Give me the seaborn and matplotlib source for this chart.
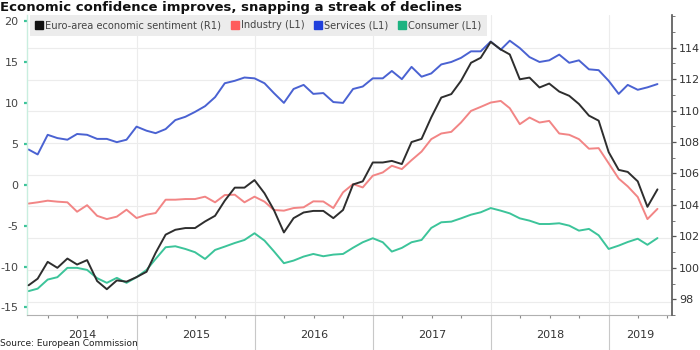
import numpy as np
import pandas as pd
import matplotlib
matplotlib.use("Agg")
import matplotlib.pyplot as plt
import matplotlib.dates as mdates
import matplotlib.transforms as mtransforms
from matplotlib.lines import Line2D
import seaborn as sns

# ---------------- data ----------------
months = pd.date_range("2014-01-31", "2019-05-31", freq="ME")

sentiment = [98.89, 99.31, 100.38, 100.0, 100.59, 100.21, 100.49, 99.16, 98.64, 99.2, 99.12,
             99.41, 99.75, 100.95, 102.11, 102.42, 102.53, 102.53, 102.95, 103.31, 104.27, 105.1, 105.1,
             105.58, 104.74, 103.68, 102.25, 103.16, 103.52, 103.62, 103.62, 103.16, 103.68, 105.3, 105.5,
             106.7, 106.7, 106.8, 106.6, 108.0, 108.2, 109.57, 110.83, 111.05, 111.89, 113.04, 113.36,
             114.37, 113.89, 113.57, 111.99, 112.1, 111.47, 111.72, 111.21, 110.94, 110.42, 109.68, 109.36,
             107.36, 106.23, 106.1, 105.5, 103.88, 104.99]

industry = [-2.3, -2.15, -1.95, -2.07, -2.15, -3.3, -2.5, -3.8, -4.2, -3.9, -3.05,
            -4.07, -3.66, -3.46, -1.83, -1.83, -1.75, -1.75, -1.46, -2.15, -1.26, -1.22, -2.15,
            -1.46, -2.07, -3.09, -3.17, -2.85, -2.76, -2.03, -2.05, -2.85, -0.93, 0.08, -0.33,
            1.1, 1.5, 2.32, 1.91, 3.0, 4.05, 5.57, 6.26, 6.46, 7.6, 9.02, 9.51,
            10.04, 10.24, 9.35, 7.4, 8.21, 7.6, 7.8, 6.26, 6.1, 5.57, 4.4, 4.47,
            2.62, 0.75, -0.2, -1.5, -4.2, -2.95]

services = [4.3, 3.7, 6.1, 5.7, 5.5, 6.2, 6.1, 5.6, 5.6, 5.2, 5.5,
            7.1, 6.6, 6.3, 6.8, 7.9, 8.3, 8.9, 9.6, 10.7, 12.4, 12.7, 13.1,
            13.0, 12.4, 11.2, 10.0, 11.7, 12.2, 11.1, 11.2, 10.1, 10.0, 11.7, 12.0,
            13.0, 13.0, 13.9, 12.9, 14.4, 13.2, 13.6, 14.7, 15.0, 15.5, 16.3, 16.3,
            17.5, 16.5, 17.6, 16.7, 15.6, 15.0, 15.2, 15.9, 14.9, 15.2, 14.1, 14.0,
            12.7, 11.1, 12.2, 11.6, 11.9, 12.3]

consumer = [-13.0, -12.7, -11.59, -11.3, -10.16, -10.16, -10.41, -11.42, -11.99, -11.38, -11.99,
            -11.3, -10.41, -9.07, -7.64, -7.52, -7.85, -8.25, -9.07, -7.97, -7.56, -7.12, -6.75,
            -5.93, -6.83, -8.13, -9.59, -9.27, -8.78, -8.46, -8.74, -8.54, -8.46, -7.7, -7.03,
            -6.54, -7.03, -8.17, -7.72, -7.03, -6.75, -5.28, -4.59, -4.51, -4.11, -3.66, -3.37,
            -2.85, -3.17, -3.5, -4.11, -4.39, -4.8, -4.8, -4.71, -5.0, -5.61, -5.4, -6.18,
            -7.85, -7.44, -7.0, -6.6, -7.34, -6.52]

series_labels = ["Euro-area economic sentiment (R1)", "Industry (L1)", "Services (L1)", "Consumer (L1)"]
years = ["2014", "2015", "2016", "2017", "2018", "2019"]
left_ticks = [-15, -10, -5, 0, 5, 10, 15, 20]
right_ticks = [98, 100, 102, 104, 106, 108, 110, 112, 114]

title = "Economic confidence improves, snapping a streak of declines"
source = "Source: European Commission"

line_colors = {"Euro-area economic sentiment (R1)": "#2e2e2e",
               "Industry (L1)": "#f28585",
               "Services (L1)": "#4a62d2",
               "Consumer (L1)": "#3cc49a"}
legend_colors = ["#111111", "#ff5c5c", "#1f3fdc", "#1cb381"]

# ---------------- figure ----------------
sns.set_theme(style="white")
plt.rcParams["font.family"] = ["DejaVu Sans"]

fig = plt.figure(figsize=(7, 3.5), dpi=100)
fig.patch.set_facecolor("white")
ax = fig.add_axes([27 / 700, 35 / 350, 645 / 700, 300 / 350])
ax2 = ax.twinx()

df = pd.DataFrame({"date": months,
                   "Euro-area economic sentiment (R1)": sentiment,
                   "Industry (L1)": industry,
                   "Services (L1)": services,
                   "Consumer (L1)": consumer})
left_names = ["Industry (L1)", "Services (L1)", "Consumer (L1)"]
long = df.melt(id_vars="date", value_vars=left_names, var_name="series", value_name="value")

sns.lineplot(data=long, x="date", y="value", hue="series", hue_order=left_names,
             palette={k: line_colors[k] for k in left_names}, ax=ax, legend=False,
             linewidth=1.4)
sns.lineplot(data=df, x="date", y="Euro-area economic sentiment (R1)",
             color=line_colors["Euro-area economic sentiment (R1)"], ax=ax2, linewidth=1.4)

# limits
xmin, xmax = pd.Timestamp("2014-01-26"), pd.Timestamp("2019-07-15")
ax.set_xlim(xmin, xmax)
ax.set_ylim(-15.92, 20.74)
ax2.set_ylim(97.15, 116.08)

ax.set_xlabel("")
ax.set_ylabel("")
ax2.set_xlabel("")
ax2.set_ylabel("")

# left axis
ax.set_yticks(left_ticks)
ax.set_yticklabels([str(t) for t in left_ticks])
ax.tick_params(axis="y", which="major", left=True, length=2, width=1.6, color="#3cc49a",
               labelcolor="#444444", labelsize=8, pad=4)
ax.spines["left"].set_color("#c9eedf")
ax.spines["left"].set_linewidth(1.0)
ax.spines["top"].set_visible(False)
ax.spines["right"].set_visible(False)
ax.spines["bottom"].set_color("#b0b0b0")
ax.spines["bottom"].set_linewidth(0.8)

# horizontal grid follows right-axis ticks
L0, L1 = ax.get_ylim()
R0, R1 = ax2.get_ylim()
mapped = L0 + (np.array(right_ticks) - R0) * (L1 - L0) / (R1 - R0)
ax.set_yticks(mapped, minor=True)
ax.tick_params(axis="y", which="minor", length=0)
ax.yaxis.grid(True, which="minor", color="#ececec", linewidth=0.8)
ax.yaxis.grid(False, which="major")

# x axis
ax.xaxis.set_major_locator(mdates.YearLocator())
ax.xaxis.set_minor_locator(mdates.MonthLocator(bymonth=[4, 7, 10]))
ax.xaxis.set_major_formatter(plt.NullFormatter())
ax.tick_params(axis="x", which="major", bottom=True, length=25, width=0.8, color="#c8c8c8",
               direction="out")
ax.tick_params(axis="x", which="minor", bottom=True, length=2.2, width=0.8, color="#8a8a8a",
               direction="out")
ax.xaxis.grid(True, which="major", color="#ececec", linewidth=0.8)

# year labels centered in the visible span of each year
trans = mtransforms.blended_transform_factory(ax.transData, ax.transAxes)
for y in years:
    start = max(pd.Timestamp(f"{y}-01-01"), xmin)
    end = min(pd.Timestamp(f"{int(y) + 1}-01-01"), xmax)
    mid = start + (end - start) / 2
    ax.text(mdates.date2num(mid), -0.068, y, transform=trans, ha="center", va="center",
            fontsize=8, color="#333333")

# right axis
ax2.set_yticks(right_ticks)
ax2.set_yticklabels([str(t) for t in right_ticks])
ax2.set_yticks(np.arange(97, 117, 1), minor=True)
ax2.tick_params(axis="y", which="major", right=True, length=3, width=0.9, color="#555555",
                labelcolor="#333333", labelsize=8, pad=2)
ax2.tick_params(axis="y", which="minor", right=True, length=1.8, width=0.7, color="#777777")
for s in ["top", "left", "bottom"]:
    ax2.spines[s].set_visible(False)
ax2.spines["right"].set_color("#555555")
ax2.spines["right"].set_linewidth(1.2)
ax2.grid(False)

# legend
handles = [Line2D([], [], marker="s", linestyle="none", color=c, markersize=6)
           for c in legend_colors]
leg = ax2.legend(handles, series_labels, loc="upper left", bbox_to_anchor=(3 / 645, 1.0),
                 ncol=4, frameon=True, facecolor="#ececec", edgecolor="none", fancybox=False,
                 framealpha=1, fontsize=7.1, handlelength=0.7, handletextpad=0.3,
                 columnspacing=1.0, borderpad=0.55, borderaxespad=0)
for t in leg.get_texts():
    t.set_color("#444444")

# title and source
fig.text(0.0, 1 - 0.5 / 350, title, fontsize=9.5, fontweight="bold", color="#111111",
         ha="left", va="top")
fig.text(0.0, 1.5 / 350, source, fontsize=6.5, color="#222222", ha="left", va="bottom")

fig.savefig("out.png", dpi=100, facecolor="white")
